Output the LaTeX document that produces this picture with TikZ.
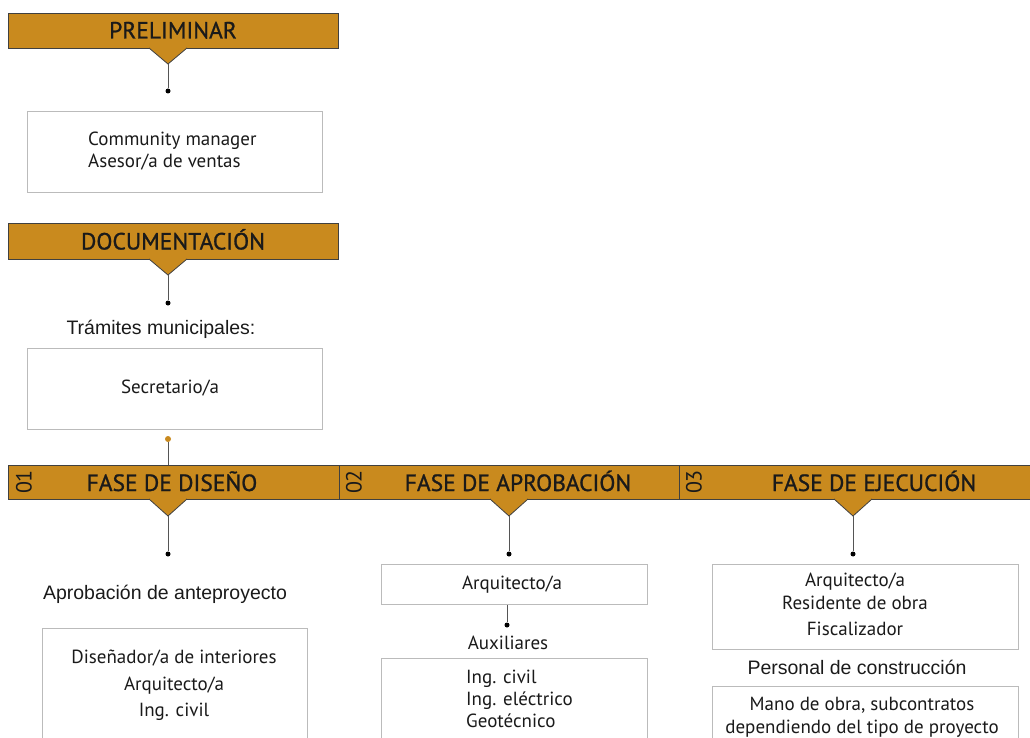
\documentclass[tikz,border=0pt]{standalone}
\usepackage{fontspec}
\setmainfont{PT Sans}
\newfontfamily\hdrf[FakeBold=1]{PT Sans}
\newfontfamily\arialf{Liberation Sans}
\definecolor{gold}{HTML}{C98A1E}
\definecolor{barline}{HTML}{404040}
\definecolor{boxline}{HTML}{BBBBBB}
\definecolor{txt}{HTML}{1A1A1A}
\definecolor{connc}{HTML}{555555}
\tikzset{
  bar/.style={fill=gold, draw=barline, line width=0.8pt, anchor=north west, inner sep=0pt},
  bartext/.style={font=\hdrf\fontsize{23.5}{23.5}\selectfont, text=txt, inner sep=0pt, anchor=base},
  numtext/.style={font=\fontsize{22}{22}\selectfont, text=txt, rotate=90, inner sep=0pt},
  tri/.style={fill=gold, draw=barline, line width=0.8pt},
  conn/.style={draw=connc, line width=1pt},
  dotb/.style={circle, fill=black, inner sep=0pt, minimum size=5pt},
  doto/.style={circle, fill=gold, inner sep=0pt, minimum size=6pt},
  rolebox/.style={draw=boxline, line width=1pt, fill=white, anchor=north west, inner sep=0pt},
  roletext/.style={font=\fontsize{19}{21.5}\selectfont, text=txt, inner sep=0pt},
  label/.style={font=\arialf\fontsize{19.5}{22}\selectfont, text=txt, inner sep=0pt},
}
\begin{document}
\begin{tikzpicture}[x=1pt,y=-1pt]
\useasboundingbox (0,0) rectangle (1030,738);
\clip (0,0) rectangle (1030,738);

% ---------- PRELIMINAR ----------
\node[bar, minimum width=330pt, minimum height=35pt] (pre) at (8,13) {};
\node[bartext] (pret) at (173,38.5) {PRELIMINAR};
\draw[tri] (149,48) -- (168,64) coordinate (preapex) -- (187,48);
\node[dotb] (predot) at (168,91) {};
\draw[conn] (preapex) -- (predot);
\node[rolebox, minimum width=295pt, minimum height=81pt] (prebox) at (27,111) {};
\node[roletext, align=left, anchor=north west] (pretxt) at (88,132) {Community manager\\Asesor/a de ventas};

% ---------- DOCUMENTACION ----------
\node[bar, minimum width=330pt, minimum height=36pt] (doc) at (8,223) {};
\node[bartext] (doct) at (173,249.5) {DOCUMENTACIÓN};
\draw[tri] (149,259) -- (168,275) coordinate (docapex) -- (187,259);
\node[dotb] (docdot) at (168,303) {};
\draw[conn] (docapex) -- (docdot);
\node[label] (tram) at (161,329) {Trámites municipales:};
\node[rolebox, minimum width=295pt, minimum height=81pt] (secbox) at (27,348) {};
\node[roletext] (sectxt) at (170,388) {Secretario/a};
\node[doto] (secdot) at (168,439) {};

% ---------- PHASE BAR ----------
\node[bar, minimum width=331pt, minimum height=34pt] (ph1) at (8,465) {};
\node[bar, minimum width=340pt, minimum height=34pt] (ph2) at (339,465) {};
\node[bar, minimum width=360pt, minimum height=34pt] (ph3) at (679,465) {};
\coordinate (ph1top) at (168,465);
\draw[conn] (secdot) -- (ph1top);
\node[numtext] (n1) at (24,482) {01};
\node[numtext] (n2) at (354,482) {02};
\node[numtext] (n3) at (694,482) {03};
\node[bartext] (f1) at (172,491) {FASE DE DISEÑO};
\node[bartext] (f2) at (518,491) {FASE DE APROBACIÓN};
\node[bartext] (f3) at (874,491) {FASE DE EJECUCIÓN};
\draw[tri] (149,499) -- (168,516) coordinate (a1) -- (187,499);
\draw[tri] (490,499) -- (509,516) coordinate (a2) -- (528,499);
\draw[tri] (834,499) -- (853,516) coordinate (a3) -- (872,499);
\node[dotb] (d1) at (168,554) {};
\node[dotb] (d2) at (509,554) {};
\node[dotb] (d3) at (853,554) {};
\draw[conn] (a1) -- (d1);
\draw[conn] (a2) -- (d2);
\draw[conn] (a3) -- (d3);

% ---------- Column 1 ----------
\node[label] (aprob) at (165,594) {Aprobación de anteproyecto};
\node[rolebox, minimum width=265pt, minimum height=140pt] (c1box) at (42,628) {};
\node[roletext, align=center, anchor=north] (c1txt) at (174,650) {Diseñador/a de interiores\\[5pt]Arquitecto/a\\[5pt]Ing. civil};

% ---------- Column 2 ----------
\node[rolebox, minimum width=266pt, minimum height=40pt] (c2box) at (381,564) {};
\node[roletext] (c2txt) at (512,585) {Arquitecto/a};
\node[dotb] (c2dot) at (507,625) {};
\draw[conn] (c2box.south -| c2dot) -- (c2dot);
\node[roletext] (aux) at (508,643) {Auxiliares};
\node[rolebox, minimum width=266pt, minimum height=110pt] (c2box2) at (381,658) {};
\node[roletext, align=left, anchor=north west, font=\fontsize{19}{22}\selectfont] (c2txt2) at (466,670) {Ing. civil\\Ing. eléctrico\\Geotécnico};

% ---------- Column 3 ----------
\node[rolebox, minimum width=306pt, minimum height=85pt] (c3box) at (712,564) {};
\node[roletext, align=center, anchor=north, font=\fontsize{19}{22}\selectfont] (c3txt) at (855,573) {Arquitecto/a\\[1pt]Residente de obra\\[4pt]Fiscalizador};
\node[label] (pers) at (857,667) {Personal de construcción};
\node[rolebox, minimum width=306pt, minimum height=90pt] (c3box2) at (712,686) {};
\node[roletext, align=center, anchor=north, font=\fontsize{19}{23}\selectfont] (c3txt2) at (862,697) {Mano de obra, subcontratos\\dependiendo del tipo de proyecto};
\end{tikzpicture}
\end{document}
